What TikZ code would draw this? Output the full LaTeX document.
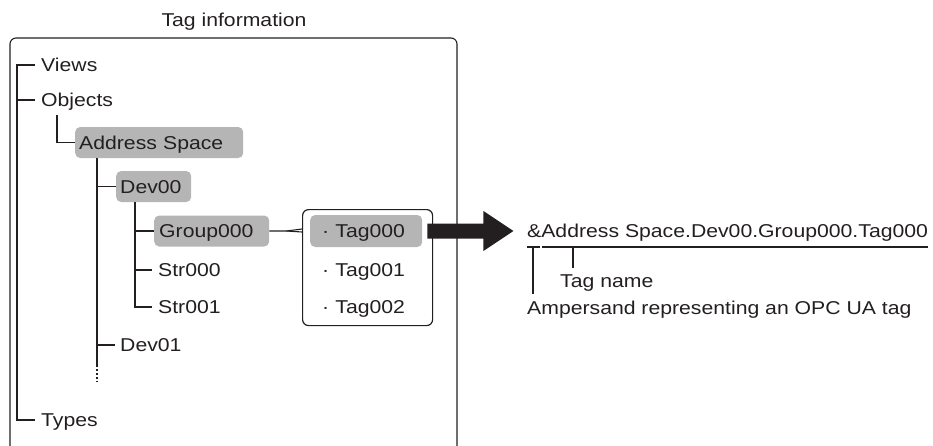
\documentclass[tikz,border=0pt]{standalone}
\usepackage{fontspec}
\setmainfont[FakeStretch=1.14]{Liberation Sans}
\usetikzlibrary{calc}
\definecolor{ink}{RGB}{35,31,32}
\definecolor{hl}{RGB}{181,181,181}
\begin{document}
\begin{tikzpicture}[x=1pt,y=-1pt,
  every node/.style={font=\fontsize{18.6}{20}\selectfont, text=ink, text height=13.4pt, text depth=0pt},
  leaf/.style={anchor=west, inner xsep=6pt, inner ysep=0pt},
  hlbox/.style={anchor=west, fill=hl, rounded corners=5pt, inner xsep=4pt, inner ysep=0pt, minimum height=31pt, align=left},
  tagrow/.style={anchor=west, inner xsep=12pt, inner ysep=0pt, minimum height=32pt, text width=88pt, align=left, rounded corners=5pt},
  tline/.style={draw=ink, line width=1.3pt},
  thin/.style={draw=ink, line width=1.1pt}]
\useasboundingbox (0,0) rectangle (933,445);

% title and frame
\node[inner sep=0pt] (title) at (234,20) {Tag information};
\draw[thin, rounded corners=6pt] (10,460) -- (10,38) -- (457,38) -- (457,460);

% top level
\node[leaf] (views) at (35,65) {Views};
\node[leaf] (objects) at (35,100) {Objects};
\node[leaf] (types) at (35,420) {Types};
\draw[tline] (views.west) -- ++(-18,0) |- (types.west);
\draw[tline] (objects.west) -- ++(-18,0);

% Address Space
\node[hlbox, text width=160pt] (addr) at (75,142.5) {Address Space};
\draw[tline] ($(objects.west)+(22,15)$) |- (addr.west);

% devices
\node[hlbox, text width=67pt] (dev0) at (116,186.5) {Dev00};
\node[leaf, inner xsep=5pt] (dev1) at (115,345) {Dev01};
\coordinate (av) at ($(addr.south west)+(22,0)$);
\draw[tline] (av) -- ++(0,207) coordinate (avend);
\draw[tline, dash pattern=on 2pt off 2pt] (avend) -- ++(0,17);
\draw[tline] (av |- dev0.west) -- (dev0.west);
\draw[tline] (av |- dev1.west) -- (dev1.west);

% groups
\node[hlbox, text width=105pt, inner xsep=5pt] (grp) at (154,231) {Group000};
\node[leaf] (str0) at (152,270) {Str000};
\node[leaf] (str1) at (152,307) {Str001};
\coordinate (dv) at ($(dev0.south west)+(19,0)$);
\draw[tline] (dv) |- (str1.west);
\draw[tline] (dv |- grp.west) -- (grp.west);
\draw[tline] (dv |- str0.west) -- (str0.west);

% tags box
\node[draw=ink, line width=1.2pt, rounded corners=6pt, minimum width=130pt, minimum height=116pt, anchor=north west, inner sep=0pt] (tagbox) at (302,209) {};
\node[tagrow, fill=hl] (tag0) at (310,231) {· Tag000};
\node[tagrow] (tag1) at (310,270) {· Tag001};
\node[tagrow] (tag2) at (310,307) {· Tag002};
\draw[thin] (grp.east) -- ++(17,0) coordinate (fork) -- ([yshift=-20pt]tagbox.north west);
\draw[thin] (fork) -- ([yshift=-23pt]tagbox.north west);

% big arrow
\coordinate (as) at ($(tag0.east)+(5,0)$);
\coordinate (tip) at ($(as)+(86,0)$);
\fill[ink] ($(as)+(0,-7.5)$) -- ($(as)+(56,-7.5)$) -- ($(as)+(56,-20)$) -- (tip)
  -- ($(as)+(56,20)$) -- ($(as)+(56,7.5)$) -- ($(as)+(0,7.5)$) -- cycle;

% tag path explanation
\node[anchor=west, inner sep=0pt] (path) at (527,231) {\&Address Space.Dev00.Group000.Tag000};
\coordinate (u1) at ($(path.west)+(0,16)$);
\coordinate (u2) at ($(path.west)+(15,16)$);
\draw[thin] (u1) -- ++(13,0);
\draw[thin] (u2) -- (path.east |- u2);
\node[anchor=west, inner sep=0pt] (tagname) at (560,281) {Tag name};
\node[anchor=west, inner sep=0pt] (amp) at (527,308) {Ampersand representing an OPC UA tag};
\draw[thin] ($(u1)+(6,0)$) -- ($(amp.north west)+(6,-7)$);
\draw[thin] ($(u1)+(46,0)$) -- ($(tagname.north west)+(13,-6)$);
\end{tikzpicture}
\end{document}
